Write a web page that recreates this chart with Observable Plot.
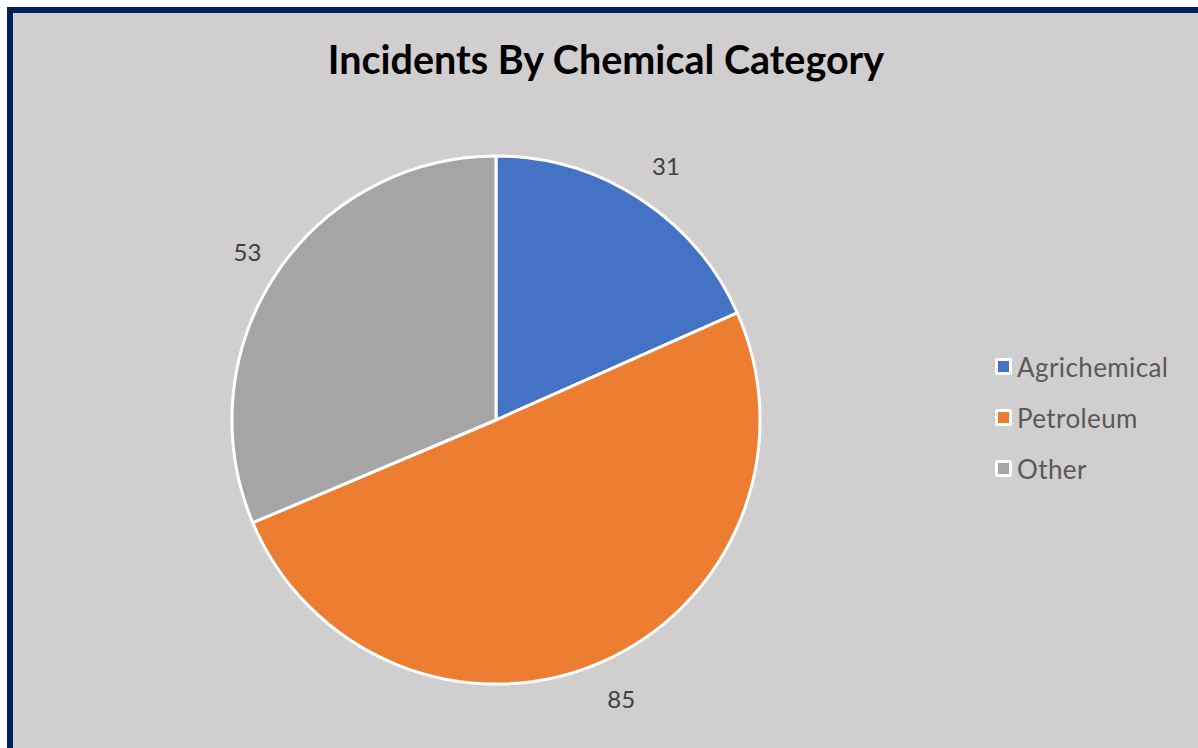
<!DOCTYPE html>
<html>
<head>
<meta charset="utf-8">
<script src="https://cdn.jsdelivr.net/npm/d3@7"></script>
<script src="https://cdn.jsdelivr.net/npm/@observablehq/plot@0.6"></script>
<style>
  html, body { margin: 0; padding: 0; background: #ffffff; overflow: hidden; width: 1198px; height: 748px; }
  #frame { position: absolute; left: 7px; top: 7px; width: 1200px; height: 800px; border: 6px solid #002060; background: #d0cece; box-sizing: border-box; }
  #title { position: absolute; left: 0; width: 1212px; top: 35px; text-align: center; font-family: Lato, "Open Sans", sans-serif; font-weight: 700; font-size: 39.5px; color: #000; }
  #chart { position: absolute; left: 196px; top: 120px; }
  #legend { position: absolute; left: 995px; top: 341px; font-family: Lato, "Open Sans", sans-serif; font-size: 26px; letter-spacing: 0.4px; color: #595959; }
  .item { display: flex; align-items: center; height: 51px; }
  .sw { width: 11px; height: 11px; border: 3px solid #fff; border-radius: 2px; margin-right: 5px; }
</style>
</head>
<body>
<div id="frame"></div>
<div id="title">Incidents By Chemical Category</div>
<div id="chart"></div>
<div id="legend"></div>
<script>
const categories = ["Agrichemical", "Petroleum", "Other"];
const values = [31, 85, 53];
const colors = ["#4472c4", "#ed7d31", "#a5a5a5"];

const data = categories.map((c, i) => ({category: c, value: values[i]}));
const arcs = d3.pie().sort(null).value(d => d.value)(data);
const labelR = 1.15;
const labels = arcs.map(a => {
  const m = (a.startAngle + a.endAngle) / 2;
  return {label: String(a.data.value), x: labelR * Math.sin(m), y: labelR * Math.cos(m)};
});

function pieMark(index, scales) {
  const cx = scales.x(0), cy = scales.y(0);
  const r = Math.abs(scales.x(1) - scales.x(0));
  const arc = d3.arc().innerRadius(0).outerRadius(r);
  const g = d3.create("svg:g").attr("transform", `translate(${cx},${cy})`);
  g.selectAll("path").data(arcs).join("path")
    .attr("d", arc)
    .attr("fill", d => scales.color(d.data.category))
    .attr("stroke", "#ffffff")
    .attr("stroke-width", 3)
    .attr("stroke-linejoin", "round");
  return g.node();
}

const plot = Plot.plot({
  width: 600,
  height: 600,
  margin: 36,
  x: {domain: [-1, 1], axis: null},
  y: {domain: [-1, 1], axis: null},
  color: {domain: categories, range: colors},
  style: {background: "transparent", overflow: "visible"},
  marks: [
    pieMark,
    Plot.text(labels, {x: "x", y: "y", text: "label", fontSize: 24, dx: 4, dy: 1, fill: "#404040", fontFamily: "Lato, 'Open Sans', sans-serif"})
  ]
});
document.getElementById("chart").appendChild(plot);

const legend = d3.select("#legend");
categories.forEach((c, i) => {
  const it = legend.append("div").attr("class", "item");
  it.append("div").attr("class", "sw").style("background", colors[i]);
  it.append("span").text(c);
});
</script>
</body>
</html>
